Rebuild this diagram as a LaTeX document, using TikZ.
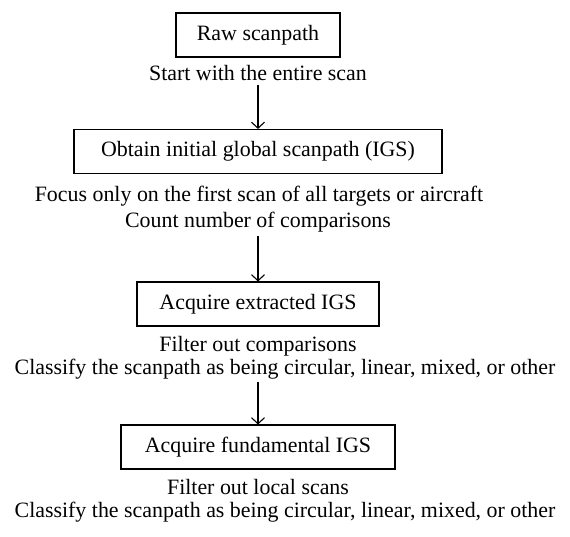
\documentclass[tikz,border=0pt]{standalone}
\usepackage{fontspec}
\setmainfont{Liberation Serif}
\usetikzlibrary{arrows.meta}

\begin{document}
\begin{tikzpicture}[x=1pt,y=-1pt,
    font=\fontsize{21.9}{26}\selectfont,
    stage/.style={draw,line width=1.1pt,minimum height=44pt,inner sep=0pt},
    note/.style={anchor=base},
    flow/.style={line width=1.1pt,-{Straight Barb[length=6pt,width=13pt,line width=1.1pt]}},]
    \useasboundingbox (0,0) rectangle (570,537);

    \node[stage,minimum width=164pt] (raw) at (258,35) {Raw scanpath};
    \node[note] (entire) at (258,81) {Start with the entire scan};

    \node[stage,minimum width=368pt] (igs) at (258,151.5) {Obtain initial global scanpath (IGS)};
    \node[note] (focus) at (259,202) {Focus only on the first scan of all targets or aircraft};
    \node[note] (count) at (258,228) {Count number of comparisons};

    \node[stage,minimum width=242pt] (extracted) at (258,304) {Acquire extracted IGS};
    \node[note] (filtercmp) at (258,351) {Filter out comparisons};
    \node[note] (classifya) at (285,374) {Classify the scanpath as being circular, linear, mixed, or other};

    \node[stage,minimum width=274pt] (fundamental) at (258,447) {Acquire fundamental IGS};
    \node[note] (filterloc) at (258,494) {Filter out local scans};
    \node[note] (classifyb) at (285,517) {Classify the scanpath as being circular, linear, mixed, or other};

    \draw[flow] (entire) -- (igs);
    \draw[flow] (count) -- (extracted);
    \draw[flow] (classifya.south -| fundamental) -- (fundamental);

\end{tikzpicture}
\end{document}
